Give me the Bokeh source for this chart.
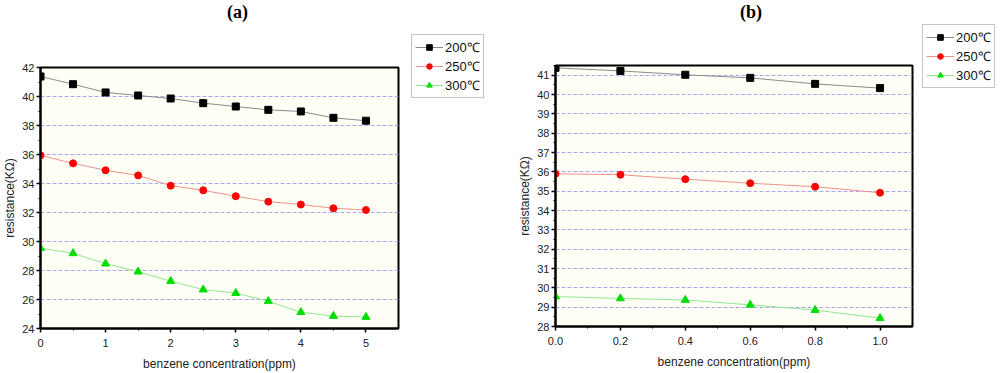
from bokeh.plotting import figure
from bokeh.models import Legend, LegendItem, Range1d, FixedTicker, NumeralTickFormatter, Div
from bokeh.layouts import row, column
from bokeh.embed import file_html
from bokeh.resources import INLINE

# ---- data panel (a) ----
xa = [0, 0.5, 1, 1.5, 2, 2.5, 3, 3.5, 4, 4.5, 5]
a200 = [41.38, 40.85, 40.28, 40.07, 39.86, 39.54, 39.31, 39.08, 38.97, 38.53, 38.33]
a250 = [35.94, 35.39, 34.91, 34.56, 33.85, 33.53, 33.12, 32.75, 32.55, 32.29, 32.17]
a300 = [29.54, 29.18, 28.47, 27.92, 27.27, 26.68, 26.44, 25.88, 25.12, 24.86, 24.79]

# ---- data panel (b) ----
xb = [0, 0.2, 0.4, 0.6, 0.8, 1.0]
b200 = [41.38, 41.22, 41.02, 40.86, 40.55, 40.33]
b250 = [35.90, 35.85, 35.62, 35.41, 35.23, 34.92]
b300 = [29.55, 29.45, 29.37, 29.12, 28.85, 28.43]

labels = ["200\u2103", "250\u2103", "300\u2103"]
titles = ["(a)", "(b)"]

FONT = "Liberation Sans"
TOP = 24          # height of the title strip
H = 373 - TOP     # height of the plot row
STYLES = [("#8a8a8a", "square", "black", 7),
          ("#f09090", "circle", "#ff0000", 7),
          ("#90e890", "triangle", "#00dd00", 8)]


def draw_series(p, x, ys):
    rs = []
    for yv, (lc, mk, mc, sz) in zip(ys, STYLES):
        r1 = p.line(x, yv, line_color=lc, line_width=1)
        r2 = p.scatter(x, yv, marker=mk, size=sz, fill_color=mc, line_color=mc)
        rs.append((r1, r2))
    return rs


def make_panel(x, ys, xr, yr, xt, xmt, yt, ymt, width, borders, xfmt=None):
    p = figure(width=width, height=H, output_backend="svg", toolbar_location=None,
               x_range=Range1d(*xr), y_range=Range1d(*yr),
               min_border_left=borders[0], min_border_right=borders[1],
               min_border_top=borders[2], min_border_bottom=borders[3])
    p.background_fill_color = "#fffff6"
    p.border_fill_color = "white"
    p.outline_line_color = "black"
    p.outline_line_width = 2
    p.xgrid.visible = False
    p.ygrid.grid_line_color = "#a8a8f0"
    p.ygrid.grid_line_dash = "4 2"
    p.ygrid.grid_line_width = 1

    p.xaxis.ticker = FixedTicker(ticks=xt, minor_ticks=xmt)
    p.yaxis.ticker = FixedTicker(ticks=yt, minor_ticks=ymt)
    if xfmt:
        p.xaxis.formatter = NumeralTickFormatter(format=xfmt)
    for ax in (p.xaxis, p.yaxis):
        ax.axis_line_width = 2
        ax.axis_line_color = "black"
        ax.major_tick_in = 0
        ax.major_tick_out = 4
        ax.minor_tick_in = 0
        ax.minor_tick_out = 2
        ax.major_tick_line_width = 1.5
        ax.minor_tick_line_width = 1
        ax.major_label_text_font = FONT
        ax.major_label_text_font_size = "11px"
        ax.major_label_text_color = "#222222"
        ax.axis_label_text_font = FONT
        ax.axis_label_text_font_size = "12px"
        ax.axis_label_text_font_style = "normal"
        ax.axis_label_text_color = "#222222"
    p.xaxis.axis_label = "benzene concentration(ppm)"
    p.yaxis.axis_label = "resistance(K\u03a9)"
    p.xaxis.major_label_standoff = 6
    p.xaxis.axis_label_standoff = 7
    p.yaxis.major_label_standoff = 2
    p.yaxis.axis_label_standoff = 2
    draw_series(p, x, ys)
    return p


def make_legend_fig(x, ys, width, left, top):
    # a frameless strip that carries the legend of the panel to its left
    q = figure(width=width, height=H, output_backend="svg", toolbar_location=None,
               x_range=Range1d(100, 101), y_range=Range1d(100, 101),
               x_axis_type=None, y_axis_type=None,
               min_border_left=left, min_border_right=0, min_border_top=top, min_border_bottom=0)
    q.outline_line_color = None
    q.background_fill_color = "white"
    q.border_fill_color = "white"
    rs = draw_series(q, x, ys)
    items = [LegendItem(label=lab, renderers=[r1, r2]) for (r1, r2), lab in zip(rs, labels)]
    leg = Legend(items=items, location="top_left")
    leg.label_text_font = FONT
    leg.label_text_font_size = "13px"
    leg.label_text_color = "#111111"
    leg.glyph_width = 28
    leg.glyph_height = 14
    leg.label_standoff = 2
    leg.label_height = 14
    leg.spacing = 1
    leg.padding = 3
    leg.margin = 0
    leg.border_line_color = "#888888"
    leg.border_line_width = 1
    leg.background_fill_color = "white"
    leg.background_fill_alpha = 1
    q.add_layout(leg, "center")
    return q


def title_div(text, width):
    return Div(text='<span style="font-family:\'Liberation Serif\';font-weight:bold;'
                    'font-size:18px;line-height:18px;color:black;">%s</span>' % text,
               width=width, height=TOP, margin=0,
               styles={"padding-top": "3px", "overflow": "visible"})


# panel (a): frame approx x 40-398, y 67-329 (page)
pa = make_panel(xa, [a200, a250, a300], (0, 5.5), (24, 42),
                [0, 1, 2, 3, 4, 5], [0.5, 1.5, 2.5, 3.5, 4.5],
                list(range(24, 43, 2)), list(range(25, 42, 2)),
                405, (40, 7, 67 - TOP, 44))
la = make_legend_fig(xa, [a200, a250, a300], 95, 6, 34 - TOP)

# panel (b): frame approx x 555-912, y 65-326 (page)
pb = make_panel(xb, [b200, b250, b300], (0, 1.1), (28, 41.5),
                [0, 0.2, 0.4, 0.6, 0.8, 1.0], [0.1, 0.3, 0.5, 0.7, 0.9],
                list(range(28, 42)), [28.5 + i for i in range(14)],
                420, (55, 8, 65 - TOP, 47), xfmt="0.0")
lb = make_legend_fig(xb, [b200, b250, b300], 80, 2, 0)

top_row = row(Div(text="", width=227, height=TOP, margin=0),
              title_div(titles[0], 513), title_div(titles[1], 260), spacing=0)
# each plot is wrapped in its own column so the row does not align their frame borders
plots_row = row(column(pa, spacing=0), column(la, spacing=0),
                column(pb, spacing=0), column(lb, spacing=0), spacing=0)
layout = column(top_row, plots_row, spacing=0)
open("out.html", "w").write(file_html(layout, INLINE))
